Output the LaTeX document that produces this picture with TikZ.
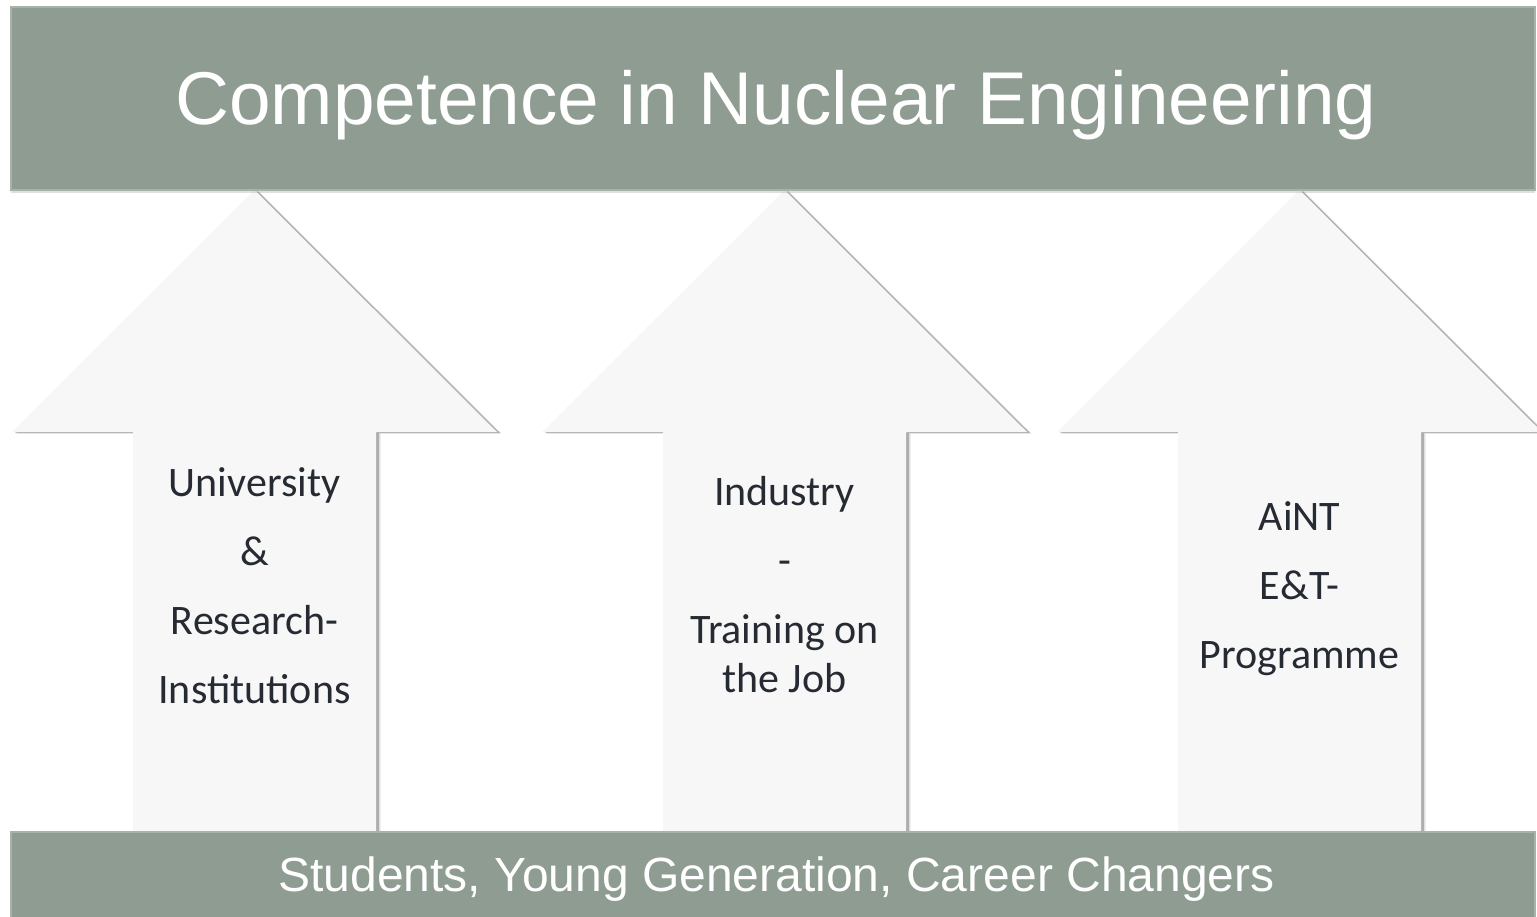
\documentclass[tikz,border=0pt]{standalone}
\usepackage{fontspec}
\setmainfont{Carlito}
\newfontfamily\arialfont{Liberation Sans}
\usetikzlibrary{shadows}
\definecolor{bargreen}{HTML}{8E9C92}
\definecolor{barrim}{HTML}{A7B3AA}
\definecolor{arrowfill}{HTML}{F7F7F7}
\definecolor{labeltext}{HTML}{262A33}

\begin{document}
\begin{tikzpicture}[x=1pt, y=-1pt]
\tikzstyle{bar} = [fill=bargreen, draw=barrim, line width=2pt, inner sep=0pt,
  drop shadow={shadow xshift=0pt, shadow yshift=-3pt, opacity=0.25}]
\tikzstyle{upbody} = [fill=arrowfill,
  drop shadow={shadow xshift=4.5pt, shadow yshift=-1.5pt, opacity=0.2},
  drop shadow={shadow xshift=3pt, shadow yshift=-1pt, opacity=0.55}]
\tikzstyle{barlabel} = [text=white, font=\arialfont, inner sep=0pt]
\tikzstyle{arrowlabel} = [text=labeltext, align=center, inner sep=0pt,
  font=\fontsize{42}{49}\selectfont]

\useasboundingbox (0,0) rectangle (1537,917);
\clip (0,0) rectangle (1537,917);

% the three arrows
\foreach \cx in {254.5, 784.5, 1299.5}
  \path[upbody] (\cx-242.5,432) -- (\cx,190) -- (\cx+242.5,432) -- (\cx+121.5,432)
    -- (\cx+121.5,850) -- (\cx-121.5,850) -- (\cx-121.5,432) -- cycle;

\node[arrowlabel] (uni) at (254.5,586) {University\\[20pt]\&\\[20pt]Research-\\[20pt]Institutions};
\node[arrowlabel] (ind) at (784.5,585) {Industry\\[20pt]-\\[20pt]Training on\\the Job};
\node[arrowlabel] (aint) at (1299.5,589) {AiNT\\[20pt]E\&T-\\[20pt]Programme};

% bars
\node[bar, minimum width=1524pt, minimum height=183pt] (topbar) at (773,98.5) {};
\node[barlabel, font=\arialfont\fontsize{74.8}{90}\selectfont] (title) at (776,105) {Competence in Nuclear Engineering};
\node[bar, minimum width=1524pt, minimum height=120pt] (bottombar) at (773,892) {};
\node[barlabel, font=\arialfont\fontsize{48}{60}\selectfont] (base) at (776.5,879) {Students, Young Generation, Career Changers};
\end{tikzpicture}
\end{document}
